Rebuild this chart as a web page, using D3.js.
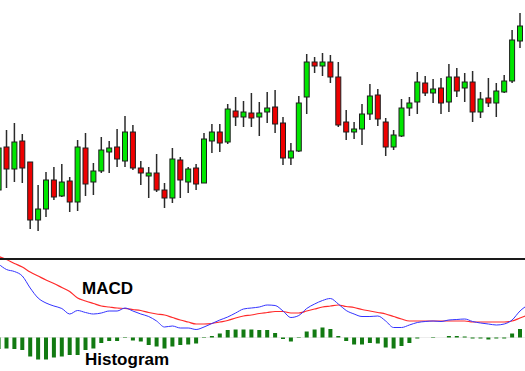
<!DOCTYPE html>
<html>
<head>
<meta charset="utf-8">
<script src="https://cdn.jsdelivr.net/npm/d3@7/dist/d3.min.js"></script>
<style>
  html, body { margin: 0; padding: 0; background: #fff; }
  svg { display: block; }
</style>
</head>
<body>
<svg id="chart" width="525" height="371"></svg>
<script>
// ---- DATA (index -1 .. 65 for candles) ----
const opens  = [55,76.5,65.5,79.5,69,40,45.5,60,52,59.5,49,76,59,64.5,74,76.5,69.5,84,66,62,63.5,55,51,70,59,66,58.5,79.5,84,79,94.5,91.5,93.5,91.5,94,96.5,88.5,71,74.5,101.5,119,117,119,111.5,89,84,85.5,93,102.5,89,76.5,82,96,99,108.5,103.5,106,99,111.5,106,109,94,101,98.5,104,109.5,129.5];
const highs  = [86,85,88.5,83,69,57.5,64,66.5,68,61.5,80,83.5,68.5,81.5,79.5,85.5,92,87.5,69.5,66.5,73,58.5,76,71.5,66.5,68,83.5,88,88,98,101.5,99.5,103.5,99,104,105,91.5,78.5,102,123,121.5,123.5,122.5,119,95,89,98,108,105.5,91,85,100.5,101.5,114,112,110.5,111,118,116,113.5,114.5,104,111,108.5,112.5,135,143.5];
const lows   = [52,56,59,58.5,35.5,34.5,41.5,50,51.5,44,44.5,52,52.5,63.5,63.5,66.5,66.5,65,57.5,51,54,46,48.5,51,53.5,55,58.5,73.5,74,78,87,86.5,86.5,82,88.5,83.5,67.5,67.5,74,93,113.5,112,108.5,86.5,80,80.5,77.5,90,87,72,75,81.5,92,93,102,98.5,93,94,101.5,99,89,91,96.5,91.5,103.5,108.5,126];
const closes = [76,65.5,79,66,40,45.5,60,51.5,59,49,76.5,58,64.5,75,76,70.5,84,66,63.5,63.5,55,51,70.5,60,65.5,58,80.5,84,78.5,95.5,91.5,94,91,93.5,96,88,71,74.5,98.5,119,117,119,111.5,87.5,84,85.5,93,102,90.5,76.5,82.5,96,98.5,109,103.5,105.5,98.5,111.5,104.5,109,94,100.5,98.5,104.5,109.5,130,137];

// MACD panel (index -1 .. 66)
const macdLine   = [7.35,6.80,6.60,6.15,4.95,3.95,3.45,3.15,2.90,2.35,2.70,2.50,2.35,2.45,2.65,2.65,2.95,2.65,2.35,2.10,1.65,1.05,1.15,0.95,0.95,0.80,1.05,1.40,1.75,2.05,2.45,2.85,2.95,3.05,3.25,3.20,2.65,2.00,2.20,2.90,3.35,3.70,3.90,3.35,2.70,2.35,2.10,2.10,2.15,1.65,1.00,1.00,1.25,1.50,1.60,1.65,1.60,1.75,1.80,1.85,1.60,1.45,1.35,1.25,1.35,1.75,2.65,3.25];
const signalLine = [8.10,7.80,7.40,7.05,6.55,6.15,5.75,5.40,5.00,4.60,3.95,3.65,3.40,3.15,3.05,2.95,2.90,2.80,2.70,2.50,2.35,2.25,2.00,1.75,1.55,1.35,1.35,1.40,1.55,1.70,1.95,2.15,2.25,2.40,2.50,2.60,2.60,2.45,2.45,2.65,2.85,3.05,3.15,3.25,3.10,3.00,2.80,2.65,2.50,2.35,2.10,1.85,1.65,1.65,1.65,1.65,1.65,1.65,1.65,1.65,1.55,1.55,1.55,1.55,1.55,1.65,1.95,2.25];
// histogram (index -1 .. 65)
const histogram  = [-1.15,-1.10,-1.15,-1.25,-1.90,-2.20,-2.20,-2.00,-1.90,-1.75,-1.75,-1.25,-1.10,-0.55,-0.35,-0.35,-0.05,-0.30,-0.40,-0.75,-0.90,-1.10,-0.90,-0.75,-0.70,-0.60,-0.05,0.15,0.40,0.75,0.80,0.80,0.80,0.75,0.75,0.45,-0.15,-0.40,-0.05,0.60,0.80,1.00,0.85,0.15,-0.35,-0.70,-0.70,-0.55,-0.60,-1.00,-1.10,-0.85,-0.55,-0.10,0.00,0.05,0.00,0.15,0.15,0.10,-0.10,-0.10,-0.20,-0.10,-0.10,0.40,0.85];

const labels = ["MACD", "Histogram"];

// ---- DRAW ----
const svg = d3.select("#chart");
const firstIndex = -1;

const x = d3.scaleLinear().domain([-1, 65]).range([-1.4, 520]);
const y = d3.scaleLinear().domain([20, 150]).range([260, 0]);
const ym = d3.scaleLinear().domain([0, 10]).range([337.5, 237.5]);

const candles = opens.map((o, k) => ({
  i: k + firstIndex, o, h: highs[k], l: lows[k], c: closes[k]
}));

const bodyW = 5;

// Wicks
svg.append("g").selectAll("line").data(candles).join("line")
  .attr("x1", d => x(d.i)).attr("x2", d => x(d.i))
  .attr("y1", d => y(d.h)).attr("y2", d => y(d.l))
  .attr("stroke", "#2b2b2b").attr("stroke-width", 1.5);

// Bodies
svg.append("g").selectAll("rect").data(candles).join("rect")
  .attr("x", d => x(d.i) - bodyW / 2)
  .attr("y", d => y(Math.max(d.o, d.c)))
  .attr("width", bodyW)
  .attr("height", d => Math.max(1, y(Math.min(d.o, d.c)) - y(Math.max(d.o, d.c))))
  .attr("fill", d => d.c >= d.o ? "#00e600" : "#ee0000")
  .attr("stroke", "#1e1e1e").attr("stroke-width", 1);

// Zero line for histogram
svg.append("line")
  .attr("x1", 0).attr("x2", 525)
  .attr("y1", ym(0)).attr("y2", ym(0))
  .attr("stroke", "#ececec").attr("stroke-width", 1);

// Histogram bars
const histData = histogram.map((v, k) => ({ i: k + firstIndex, v }));
svg.append("g").selectAll("rect").data(histData).join("rect")
  .attr("x", d => x(d.i) - 2)
  .attr("y", d => Math.min(ym(0), ym(d.v)))
  .attr("width", 4)
  .attr("height", d => Math.abs(ym(d.v) - ym(0)))
  .attr("fill", "#127a12");

// MACD lines
const lineGen = arr => d3.line()
  .x((v, k) => x(k + firstIndex))
  .y(v => ym(v))
  .curve(d3.curveMonotoneX)(arr);

svg.append("path").attr("d", lineGen(signalLine))
  .attr("fill", "none").attr("stroke", "#ff2a2a").attr("stroke-width", 1.2);
svg.append("path").attr("d", lineGen(macdLine))
  .attr("fill", "none").attr("stroke", "#3333ff").attr("stroke-width", 1);

// Separator
svg.append("rect").attr("x", 0).attr("y", 258).attr("width", 525).attr("height", 2)
  .attr("fill", "#1a1a1a");

// Labels
svg.append("text").text(labels[0])
  .attr("x", 82).attr("y", 294)
  .attr("font-family", "Liberation Sans, Arial, sans-serif")
  .attr("font-weight", "bold").attr("font-size", 17).attr("fill", "#000");
svg.append("text").text(labels[1])
  .attr("x", 85).attr("y", 365)
  .attr("font-family", "Liberation Sans, Arial, sans-serif")
  .attr("font-weight", "bold").attr("font-size", 17).attr("fill", "#000");
</script>
</body>
</html>
